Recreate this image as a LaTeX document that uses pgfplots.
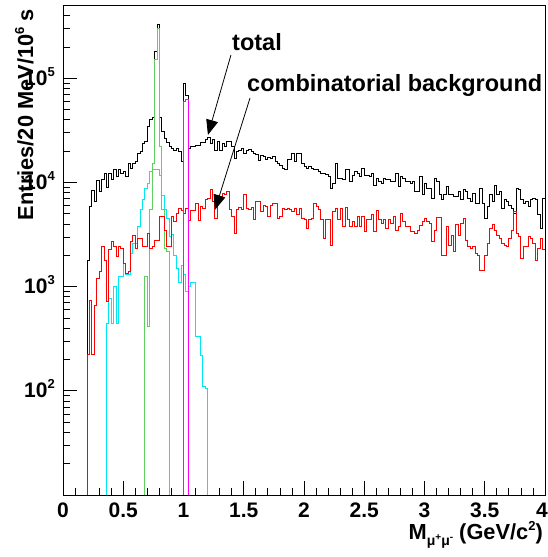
\documentclass[border=0pt]{standalone}
\usepackage{fontspec}
\setmainfont{Liberation Sans}
\usepackage{pgfplots}
\pgfplotsset{compat=1.18}
\usetikzlibrary{arrows.meta}
\definecolor{hred}{RGB}{255,0,0}
\definecolor{hcyan}{RGB}{0,232,242}
\definecolor{hgreen}{RGB}{95,208,95}
\definecolor{hmag}{RGB}{255,0,255}
\newcommand{\tickfont}{\fontsize{21}{21}\selectfont\bfseries}
\newcommand{\titlefont}{\fontsize{21.8}{21.8}\selectfont\bfseries}
\newcommand{\annfont}{\fontsize{23.5}{23.5}\selectfont\bfseries}
\newcommand{\supfont}{\fontsize{13}{13}\selectfont\bfseries}
\newcommand{\sups}[1]{\raisebox{9pt}{\supfont #1}}
\begin{document}
\begin{tikzpicture}
\begin{axis}[name=ax, at={(63pt,62pt)}, anchor=south west,
  width=482pt, height=490pt, scale only axis,
  xmin=0, xmax=4, ymin=10, ymax=5.05e5, ymode=log,
  axis line style={line width=0.8pt},
  tick align=inside, xtick pos=left, ytick pos=left,
  major tick length=14pt, minor tick length=7pt,
  tick style={black, line width=0.7pt},
  xtick={0,0.5,1,1.5,2,2.5,3,3.5,4},
  xticklabels={0,0.5,1,1.5,2,2.5,3,3.5,\kern-6pt 4},
  minor x tick num=4,
  ytick={100,1000,10000,100000},
  yticklabels={10\sups{2},10\sups{3},10\sups{4},10\sups{5}},
  minor ytick={20,30,40,50,60,70,80,90,200,300,400,500,600,700,800,900,2000,3000,4000,5000,6000,7000,8000,9000,20000,30000,40000,50000,60000,70000,80000,90000,200000,300000,400000,500000},
  xticklabel style={font=\tickfont, anchor=north, inner sep=0pt, yshift=-8pt},
  yticklabel style={font=\tickfont, anchor=base east, inner sep=0pt, xshift=-8pt, yshift=-7pt},
  every axis plot/.append style={line width=0.9pt, const plot mark left, mark=none},
]
% total
\addplot[black] coordinates {(0,10)(0.20,1800)(0.22,5860)(0.24,8470)(0.26,6550)(0.28,10400)(0.30,8200)(0.32,10600)(0.34,12200)(0.36,9000)(0.38,12200)(0.40,10600)(0.42,13200)(0.44,11400)(0.46,13200)(0.48,12200)(0.50,12700)(0.52,11400)(0.54,15200)(0.56,13500)(0.58,15200)(0.60,15800)(0.62,19000)(0.64,19700)(0.66,23800)(0.68,24700)(0.70,34300)(0.72,40000)(0.74,42300)(0.76,180000)(0.78,325000)(0.80,42000)(0.82,31000)(0.84,26500)(0.86,24000)(0.88,22000)(0.90,21300)(0.92,20500)(0.94,21000)(0.96,20000)(0.98,15900)(1.00,89600)(1.02,68000)(1.04,21300)(1.06,22000)(1.08,22300)(1.10,22900)(1.12,22900)(1.14,24000)(1.16,24000)(1.18,25600)(1.20,27000)(1.22,23800)(1.24,26000)(1.26,20500)(1.28,24500)(1.30,20500)(1.32,23800)(1.34,22300)(1.36,24500)(1.38,25000)(1.40,22000)(1.42,17000)(1.44,19800)(1.46,20500)(1.48,21300)(1.50,19100)(1.52,20500)(1.54,20800)(1.56,19800)(1.58,19100)(1.60,18400)(1.62,16400)(1.64,18000)(1.66,17700)(1.68,16700)(1.70,17400)(1.72,17100)(1.74,17700)(1.76,15800)(1.78,15300)(1.80,14700)(1.82,13700)(1.84,13200)(1.86,16700)(1.88,16700)(1.90,19100)(1.92,15800)(1.94,19100)(1.96,19100)(1.98,15300)(2.00,14200)(2.02,13700)(2.04,14200)(2.06,13700)(2.08,13400)(2.10,13200)(2.12,12700)(2.14,12100)(2.16,12200)(2.18,12000)(2.20,11500)(2.22,8790)(2.24,9800)(2.26,15300)(2.28,11000)(2.30,11000)(2.32,10600)(2.34,13200)(2.36,13200)(2.38,10200)(2.40,11800)(2.42,12700)(2.44,12200)(2.46,11400)(2.48,13700)(2.50,11800)(2.52,11800)(2.54,11400)(2.56,12200)(2.58,9460)(2.60,11000)(2.62,10200)(2.64,9820)(2.66,11000)(2.68,10600)(2.70,10600)(2.72,10200)(2.74,10200)(2.76,12200)(2.78,9120)(2.80,11400)(2.82,11000)(2.84,10200)(2.86,10200)(2.88,9820)(2.90,10200)(2.92,8170)(2.94,8170)(2.96,11400)(2.98,7590)(3.00,9820)(3.02,8790)(3.04,8790)(3.06,7050)(3.08,11000)(3.10,10200)(3.12,7590)(3.14,6800)(3.16,7590)(3.18,9120)(3.20,7590)(3.22,7590)(3.24,7310)(3.26,7310)(3.28,8170)(3.30,6800)(3.32,8480)(3.34,8170)(3.36,7050)(3.38,6550)(3.40,7870)(3.42,6310)(3.44,6310)(3.46,8790)(3.48,6310)(3.50,4530)(3.52,5860)(3.54,7590)(3.56,6550)(3.58,9460)(3.60,7590)(3.62,8170)(3.64,5650)(3.66,6800)(3.68,6550)(3.70,6080)(3.72,5650)(3.74,5060)(3.76,8790)(3.78,8480)(3.80,6800)(3.82,6310)(3.84,6550)(3.86,5860)(3.88,6800)(3.90,7050)(3.92,6800)(3.94,4880)(3.96,3630)(3.98,7050)(4.00,7050)};
% cyan
\addplot[hcyan] coordinates {(0,10)(0.36,445)(0.38,775)(0.40,445)(0.42,1000)(0.44,445)(0.46,1250)(0.48,1250)(0.50,1680)(0.52,1300)(0.54,1300)(0.56,2090)(0.58,2610)(0.60,2610)(0.62,3770)(0.64,5450)(0.66,6800)(0.68,8790)(0.70,9800)(0.72,12700)(0.74,13200)(0.76,13200)(0.78,13200)(0.80,11800)(0.82,7500)(0.84,5500)(0.86,4500)(0.88,3000)(0.90,3200)(0.92,2000)(0.94,1500)(0.96,1100)(0.98,1600)(1.00,1300)(1.02,900)(1.04,1000)(1.06,1100)(1.08,1100)(1.10,330)(1.12,330)(1.14,220)(1.16,110)(1.18,105)(1.20,10)(4.00,10)};
% green
\addplot[hgreen] coordinates {(0,10)(0.68,1250)(0.70,413)(0.72,5450)(0.74,15200)(0.76,150000)(0.78,302000)(0.80,22000)(0.82,5500)(0.84,2300)(0.86,2200)(0.88,10)(4.00,10)};
% red: combinatorial background
\addplot[hred] coordinates {(0,10)(0.20,221)(0.22,740)(0.24,221)(0.26,667)(0.28,1200)(0.30,1390)(0.32,2420)(0.34,1800)(0.36,718)(0.38,2250)(0.40,2700)(0.42,2450)(0.44,1940)(0.46,2450)(0.48,2350)(0.50,1670)(0.52,1340)(0.54,1390)(0.56,2700)(0.58,3130)(0.60,2350)(0.62,2910)(0.64,2910)(0.66,2420)(0.68,2420)(0.70,3250)(0.72,2350)(0.74,2420)(0.76,2780)(0.78,2780)(0.80,4700)(0.82,4700)(0.84,3500)(0.86,2420)(0.88,2420)(0.90,4700)(0.92,4200)(0.94,5050)(0.96,5650)(0.98,5400)(1.00,5050)(1.02,5650)(1.04,4350)(1.06,5400)(1.08,5400)(1.10,6300)(1.12,4350)(1.14,5850)(1.16,5650)(1.18,6800)(1.20,7000)(1.22,8500)(1.24,6500)(1.26,4500)(1.28,6800)(1.30,7000)(1.32,7900)(1.34,7700)(1.36,8170)(1.38,5450)(1.40,4700)(1.42,3250)(1.44,5450)(1.46,5780)(1.48,5450)(1.50,7590)(1.52,5650)(1.54,5450)(1.56,5780)(1.58,4370)(1.60,6550)(1.62,6550)(1.64,5250)(1.66,6080)(1.68,5860)(1.70,4700)(1.72,6080)(1.74,6310)(1.76,6310)(1.78,4530)(1.80,4700)(1.82,5650)(1.84,5450)(1.86,5650)(1.88,5450)(1.90,5250)(1.92,5650)(1.94,4900)(1.96,5650)(1.98,4530)(2.00,4370)(2.02,3630)(2.04,4370)(2.06,4530)(2.08,6310)(2.10,5860)(2.12,5450)(2.14,4370)(2.16,2910)(2.18,4370)(2.20,4370)(2.22,2510)(2.24,5250)(2.26,5650)(2.28,4370)(2.30,5650)(2.32,3770)(2.34,5780)(2.36,4370)(2.38,3770)(2.40,4200)(2.42,3770)(2.44,4700)(2.46,3770)(2.48,4700)(2.50,3370)(2.52,4370)(2.54,4370)(2.56,4880)(2.58,3370)(2.60,5370)(2.62,4370)(2.64,4060)(2.66,4370)(2.68,3630)(2.70,4370)(2.72,4060)(2.74,4700)(2.76,3500)(2.78,3770)(2.80,5050)(2.82,4200)(2.84,3770)(2.86,3770)(2.88,3370)(2.90,3370)(2.92,3250)(2.94,3500)(2.96,3900)(2.98,4200)(3.00,4530)(3.02,4200)(3.04,4060)(3.06,2700)(3.08,3500)(3.10,4640)(3.12,4640)(3.14,2010)(3.16,2010)(3.18,3770)(3.20,2510)(3.22,3130)(3.24,2170)(3.26,3920)(3.28,3130)(3.30,4060)(3.32,4530)(3.34,2800)(3.36,2420)(3.38,2330)(3.40,2420)(3.42,2090)(3.44,2010)(3.46,1445)(3.48,1445)(3.50,2010)(3.52,2610)(3.54,3630)(3.56,3920)(3.58,3500)(3.60,3130)(3.62,2910)(3.64,2610)(3.66,2510)(3.68,2420)(3.70,2910)(3.72,3500)(3.74,5250)(3.76,3250)(3.78,3020)(3.80,1870)(3.82,2420)(3.84,2420)(3.86,3020)(3.88,2910)(3.90,2610)(3.92,1800)(3.94,2330)(3.96,2910)(3.98,2250)(4.00,2250)};
% magenta: phi
\addplot[hmag] coordinates {(0.20,10)(1.00,60000)(1.02,63000)(1.04,10)(4.00,10)};
% annotations
\node[anchor=base west, font=\annfont, inner sep=0pt] at (axis cs:1.4025,182800) {total};
\node[anchor=base west, font=\annfont, inner sep=0pt] at (axis cs:1.527,73900) {combinatorial background};
\draw[line width=0.8pt, -{Triangle[length=15pt,width=12pt]}] (axis cs:1.394,167500) -- (axis cs:1.203,28600);
\draw[line width=0.8pt, -{Triangle[length=15pt,width=12pt]}] (axis cs:1.552,64700) -- (axis cs:1.261,5450);
\end{axis}
\node[rotate=90, anchor=base east, font=\titlefont, inner sep=0pt] at ([xshift=-30pt,yshift=-4pt]ax.north west) {Entries/20 MeV/10\sups{6} s};
\node[anchor=base east, font=\titlefont, inner sep=0pt] at ([xshift=-2pt,yshift=-45pt]ax.south east) {M\raisebox{-6pt}{\fontsize{14}{14}\selectfont\bfseries μ\raisebox{5pt}{\fontsize{10}{10}\selectfont +}μ\raisebox{5pt}{\fontsize{10}{10}\selectfont -}} (GeV/c\raisebox{9.5pt}{\supfont 2})};
\pgfresetboundingbox
\path[use as bounding box] (0,0) rectangle (548pt,557pt);
\end{tikzpicture}
\end{document}
